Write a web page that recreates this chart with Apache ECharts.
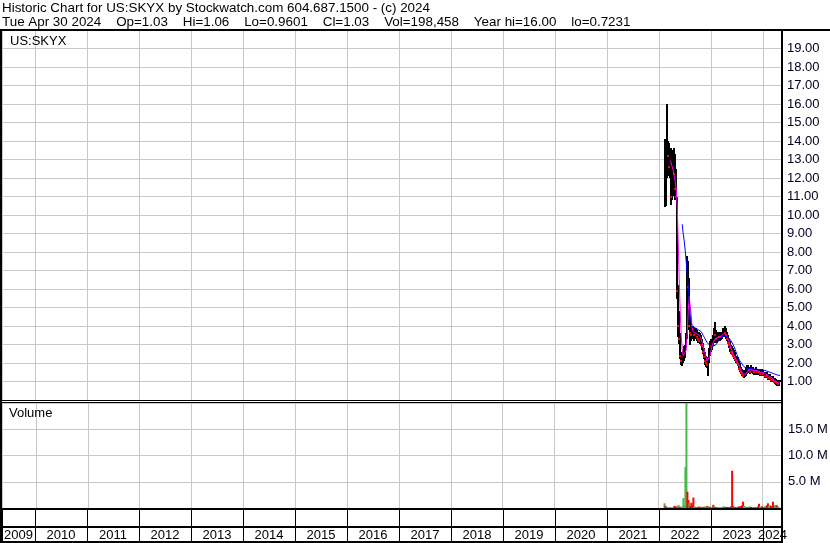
<!DOCTYPE html>
<html><head><meta charset="utf-8">
<script src="https://cdn.jsdelivr.net/npm/echarts@6/dist/echarts.min.js"></script>
<style>html,body{margin:0;padding:0;background:#fff}#c{width:830px;height:543px}</style>
</head><body><div id="c"></div>
<script>
// ---- data (weekly, starting week of 2022-02-14) ----
const weekHigh = [14.1,13.8,16.0,14.0,13.9,13.5,13.6,12.8,13.5,13.6,
13.3,12.5,11.0,6.2,4.8,3.6,2.6,2.5,2.6,2.9,
3.0,3.6,7.8,7.5,6.6,4.5,4.0,3.9,4.0,3.9,
3.8,3.9,3.8,3.7,3.7,3.6,3.5,3.3,3.1,2.8,
2.6,2.4,2.3,2.2,2.8,3.2,3.3,3.3,3.5,3.9,
4.2,3.8,3.6,3.7,3.6,3.7,3.6,3.7,3.9,3.9,
4.0,3.9,3.7,3.5,3.3,3.2,3.0,2.9,2.8,2.7,
2.6,2.4,2.3,2.3,2.1,2.0,1.8,1.7,1.6,1.5,
1.6,1.8,1.9,1.9,1.8,1.8,1.9,1.8,1.8,1.7,
1.7,1.8,1.7,1.7,1.7,1.6,1.7,1.7,1.6,1.5,
1.5,1.5,1.5,1.4,1.4,1.4,1.3,1.3,1.3,1.2,
1.2,1.15,1.1,1.1,1.06,1.06];
const weekLow = [10.4,10.5,12.0,12.5,12.1,12.0,10.5,10.8,11.0,11.5,
10.8,10.9,5.5,3.4,3.0,2.2,1.9,1.85,2.0,2.1,
2.3,2.8,3.3,5.0,3.8,3.0,3.2,3.3,3.3,3.2,
3.3,3.4,3.2,3.1,3.1,3.0,2.9,2.7,2.5,2.2,
1.9,1.8,1.7,1.3,2.0,2.4,2.6,2.7,2.9,3.1,
3.2,3.1,3.1,3.2,3.2,3.2,3.2,3.3,3.4,3.4,
3.4,3.3,3.2,3.0,2.8,2.6,2.5,2.4,2.3,2.2,
2.1,2.0,1.9,1.8,1.6,1.5,1.4,1.3,1.25,1.2,
1.2,1.3,1.4,1.5,1.5,1.4,1.5,1.5,1.4,1.4,
1.4,1.5,1.4,1.4,1.4,1.3,1.3,1.4,1.3,1.3,
1.2,1.2,1.2,1.1,1.1,1.1,1.0,1.0,1.0,0.95,
0.9,0.85,0.8,0.75,0.72,0.96];
const weekClose = [10.6,13.0,14.2,13.2,12.6,12.9,11.0,12.2,13.0,12.2,
11.4,11.0,5.9,4.0,3.3,2.4,2.1,2.2,2.3,2.7,
2.8,3.4,6.5,6.1,4.0,3.6,3.5,3.6,3.7,3.5,
3.6,3.7,3.4,3.3,3.2,3.2,3.0,2.9,2.6,2.3,
2.1,2.0,1.9,2.0,2.6,3.0,2.9,3.1,3.3,3.6,
3.5,3.3,3.4,3.5,3.4,3.5,3.4,3.6,3.7,3.8,
3.6,3.5,3.3,3.1,3.0,2.8,2.6,2.5,2.4,2.3,
2.2,2.1,2.0,1.9,1.7,1.6,1.5,1.4,1.3,1.35,
1.4,1.6,1.7,1.7,1.6,1.5,1.7,1.6,1.6,1.5,
1.6,1.6,1.5,1.6,1.5,1.4,1.5,1.6,1.4,1.4,
1.3,1.4,1.3,1.2,1.3,1.2,1.1,1.2,1.1,1.0,
1.0,0.95,0.9,0.85,1.0,1.03];
const maFast = [null,null,null,null,null,12.95,12.85,12.6,12.4,12.1,
11.8,11.4,10.5,8.5,6.5,4.8,3.5,2.7,2.4,2.3,
2.4,2.7,3.5,4.8,5.6,5.5,4.6,3.9,3.7,3.6,
3.6,3.6,3.6,3.6,3.5,3.4,3.3,3.1,2.9,2.7,
2.5,2.3,2.1,2.0,2.1,2.4,2.7,2.9,3.1,3.2,
3.3,3.35,3.35,3.4,3.4,3.4,3.45,3.5,3.55,3.6,
3.6,3.55,3.45,3.3,3.15,3.0,2.8,2.65,2.5,2.4,
2.3,2.2,2.1,2.0,1.9,1.75,1.6,1.5,1.4,1.35,
1.35,1.4,1.5,1.6,1.65,1.65,1.65,1.6,1.6,1.6,
1.6,1.6,1.6,1.55,1.55,1.5,1.5,1.5,1.5,1.45,
1.4,1.4,1.35,1.3,1.3,1.25,1.2,1.2,1.15,1.1,
1.05,1.0,0.95,0.95,0.95,0.97];
const maSlow = [null,null,null,null,null,null,null,null,null,null,
null,null,null,null,null,null,null,9.5,9.0,8.6,
8.1,7.5,6.8,6.2,5.4,4.6,4.2,3.95,3.9,3.9,
3.9,3.85,3.8,3.8,3.75,3.75,3.7,3.6,3.5,3.4,
3.3,3.2,3.1,3.05,3.0,2.95,2.95,2.9,2.9,2.9,
2.95,3.0,3.05,3.15,3.25,3.35,3.4,3.45,3.45,3.45,
3.45,3.45,3.45,3.4,3.35,3.3,3.2,3.1,3.0,2.9,
2.75,2.6,2.45,2.3,2.2,2.1,2.0,1.95,1.85,1.8,
1.75,1.72,1.7,1.7,1.7,1.7,1.7,1.7,1.68,1.68,
1.67,1.67,1.66,1.65,1.65,1.65,1.64,1.63,1.62,1.6,
1.6,1.58,1.56,1.54,1.52,1.5,1.48,1.46,1.44,1.42,
1.4,1.38,1.36,1.34,1.33,1.32];
const volumeM = [0.9,0.4,0.15,0.1,0.1,0.08,0.1,0.08,0.1,0.08,
0.4,0.2,0.3,0.2,0.6,0.2,0.25,0.2,0.3,1.9,
0.5,7.8,20.5,3.1,1.5,0.9,0.4,1.0,0.5,2.0,
0.3,0.2,0.2,0.15,0.2,0.3,0.2,0.15,0.2,0.25,
0.2,0.3,0.25,0.4,0.3,0.25,0.2,0.15,0.2,0.6,
0.3,0.2,0.15,0.1,0.1,0.1,0.1,0.15,0.2,0.25,
0.3,0.2,0.15,0.2,0.15,0.1,0.2,0.3,7.1,0.4,
0.2,0.15,0.2,0.2,0.2,0.3,0.25,0.4,0.5,1.2,
0.4,0.3,0.2,0.2,0.15,0.1,0.3,0.2,0.1,0.1,
0.15,0.1,0.15,0.2,0.3,0.8,0.3,0.2,0.3,0.2,
0.2,0.3,0.4,0.5,0.9,0.4,0.5,0.4,0.3,1.2,
0.5,0.4,0.6,0.5,0.3,0.2];
const volumeUp = [1,0,1,0,1,0,0,1,1,0,
0,0,0,0,1,0,0,1,1,1,
1,1,1,0,0,1,0,0,0,0,
1,1,0,1,0,0,1,0,0,1,
0,1,1,0,1,1,0,1,1,0,
1,0,0,1,0,1,1,1,1,1,
1,0,0,0,0,0,0,0,0,0,
1,0,0,1,0,0,0,0,0,0,
1,1,1,1,0,0,1,0,0,1,
0,1,0,1,0,0,1,1,0,0,
1,1,1,0,0,1,1,0,0,0,
0,1,1,0,1,1];
const yearLabels = ['2009','2010','2011','2012','2013','2014','2015','2016','2017','2018','2019','2020','2021','2022','2023','2024'];
const priceMin = 0, priceMax = 20, priceStep = 1;
const volMax = 20e6, volStep = 5e6;
const headerLine1 = 'Historic Chart for US:SKYX by Stockwatch.com 604.687.1500 - (c) 2024';
const headerLine2 = 'Tue Apr 30 2024    Op=1.03    Hi=1.06    Lo=0.9601    Cl=1.03    Vol=198,458    Year hi=16.00    lo=0.7231';

const AXIS_MIN = new Date(2009,4,14).getTime();
const AXIS_MAX = new Date(2024,4,14).getTime();
function weekDate(k){ const d = new Date(2022,1,14); d.setDate(d.getDate()+7*k); return d.getTime(); }

const FONT = '"Liberation Sans", Arial, sans-serif';
const priceData = weekHigh.map((h,k)=>[weekDate(k), h, weekLow[k], weekClose[k], (k>0 && weekClose[k]<weekClose[k-1]) ? 1 : 0]);

const chart = echarts.init(document.getElementById('c'), null, {renderer:'canvas'});
const grids = [
  {left:2, top:30, width:780, height:370},
  {left:2, top:403, width:780, height:105},
  {left:2, top:510, width:780, height:16},
  {left:2, top:528, width:780, height:13}
].map(g=>Object.assign({containLabel:false, outerBoundsMode:'none', show:false}, g));

const xAxes = [0,1,2,3].map(i=>({
  type:'time', gridIndex:i, min:AXIS_MIN, max:AXIS_MAX, splitNumber:15,
  minInterval:365*864e5, maxInterval:366*864e5,
  axisLine:{show:false}, axisTick:{show:false}, axisLabel:{show:false},
  splitLine:{show:true, lineStyle:{color: i<2 ? '#c8c8c8' : '#000', width:1}}
}));
const yAxes = [
  {type:'value', gridIndex:0, position:'right', min:priceMin, max:priceMax, interval:priceStep,
   axisLine:{show:false}, axisTick:{show:false},
   axisLabel:{margin:5, color:'#000022', fontSize:13, fontFamily:FONT,
     formatter:v=> (v<=priceMin||v>=priceMax) ? '' : v.toFixed(2)},
   splitLine:{lineStyle:{color:'#c8c8c8', width:1}}},
  {type:'value', gridIndex:1, position:'right', min:0, max:volMax, interval:volStep,
   axisLine:{show:false}, axisTick:{show:false},
   axisLabel:{margin:6, color:'#000022', fontSize:13, fontFamily:FONT,
     formatter:v=> (v<=0||v>=volMax) ? '' : (v/1e6).toFixed(1)+' M'},
   splitLine:{lineStyle:{color:'#c8c8c8', width:1}}},
  {type:'value', gridIndex:2, min:0, max:1, show:false, splitLine:{show:false}},
  {type:'value', gridIndex:3, min:0, max:1, show:false, splitLine:{show:false}}
];

const blk = (x,y,w,h)=>({type:'rect', shape:{x,y,width:w,height:h}, style:{fill:'#000'}, silent:true, z:100});
chart.setOption({
  animation:false,
  backgroundColor:'#fff',
  grid:grids, xAxis:xAxes, yAxis:yAxes,
  graphic:[
    {type:'text', left:2, top:2, style:{text:headerLine1, font:'13.4px '+FONT, fill:'#000'}, z:100},
    {type:'text', left:2, top:16, style:{text:headerLine2, font:'13.4px '+FONT, fill:'#000'}, z:100},
    {type:'text', left:10, top:35, style:{text:'US:SKYX', font:'13px '+FONT, fill:'#000'}, z:100},
    {type:'text', left:9, top:407, style:{text:'Volume', font:'13px '+FONT, fill:'#000'}, z:100},
    blk(0,29,830,2),
    blk(0,29,2,514),
    blk(781,29,2,514),
    blk(0,400,783,1),
    blk(0,402,783,1),
    blk(0,508,783,2),
    blk(0,526,783,2),
    blk(0,541,783,2)
  ],
  series:[
    {type:'custom', name:'price', xAxisIndex:0, yAxisIndex:0, silent:true, clip:true,
     data:priceData,
     renderItem:(params, api)=>{
       const t = api.value(0);
       const pH = api.coord([t, api.value(1)]);
       const pL = api.coord([t, api.value(2)]);
       const x = Math.round(pH[0]);
       return {type:'rect', shape:{x:x-1, y:Math.round(pH[1]), width:2, height:Math.max(1, Math.round(pL[1]-pH[1]))}, style:{fill:'#000'}};
     }},
    {type:'custom', name:'closeTicks', xAxisIndex:0, yAxisIndex:0, silent:true, clip:true,
     data:priceData,
     renderItem:(params, api)=>{
       if (!api.value(4)) return null;
       const p = api.coord([api.value(0), api.value(3)]);
       const x = Math.round(p[0]);
       return {type:'rect', shape:{x:x-1, y:Math.round(p[1])-1, width:2, height:2}, style:{fill:'#ff0000'}};
     }},
    {type:'line', name:'maFast', xAxisIndex:0, yAxisIndex:0, showSymbol:false, silent:true,
     data:maFast.map((v,k)=>[weekDate(k), v]), connectNulls:false,
     lineStyle:{color:'#ff00ff', width:1}},
    {type:'line', name:'maSlow', xAxisIndex:0, yAxisIndex:0, showSymbol:false, silent:true,
     data:maSlow.map((v,k)=>[weekDate(k), v]), connectNulls:false,
     lineStyle:{color:'#0000ff', width:1}},
    {type:'bar', name:'volume', xAxisIndex:1, yAxisIndex:1, barWidth:2, silent:true,
     data:volumeM.map((v,k)=>({value:[weekDate(k), v*1e6], itemStyle:{color: volumeUp[k] ? '#48b848' : '#ff0000'}}))},
    {type:'custom', name:'years', xAxisIndex:3, yAxisIndex:3, silent:true,
     data:yearLabels.map(y=>[new Date(+y,0,1).getTime(), 0.5]),
     renderItem:(params, api)=>{
       const cs = params.coordSys;
       const y = yearLabels[params.dataIndex];
       const a = api.coord([api.value(0), 0.5]);
       const b = api.coord([new Date(+y+1,0,1).getTime(), 0.5]);
       const x0 = Math.max(a[0], cs.x), x1 = Math.min(b[0], cs.x+cs.width);
       return {type:'text', style:{text:y, x:(x0+x1)/2, y:a[1]+1, align:'center', verticalAlign:'middle', font:'13px '+FONT, fill:'#000'}};
     }}
  ]
});
</script></body></html>
